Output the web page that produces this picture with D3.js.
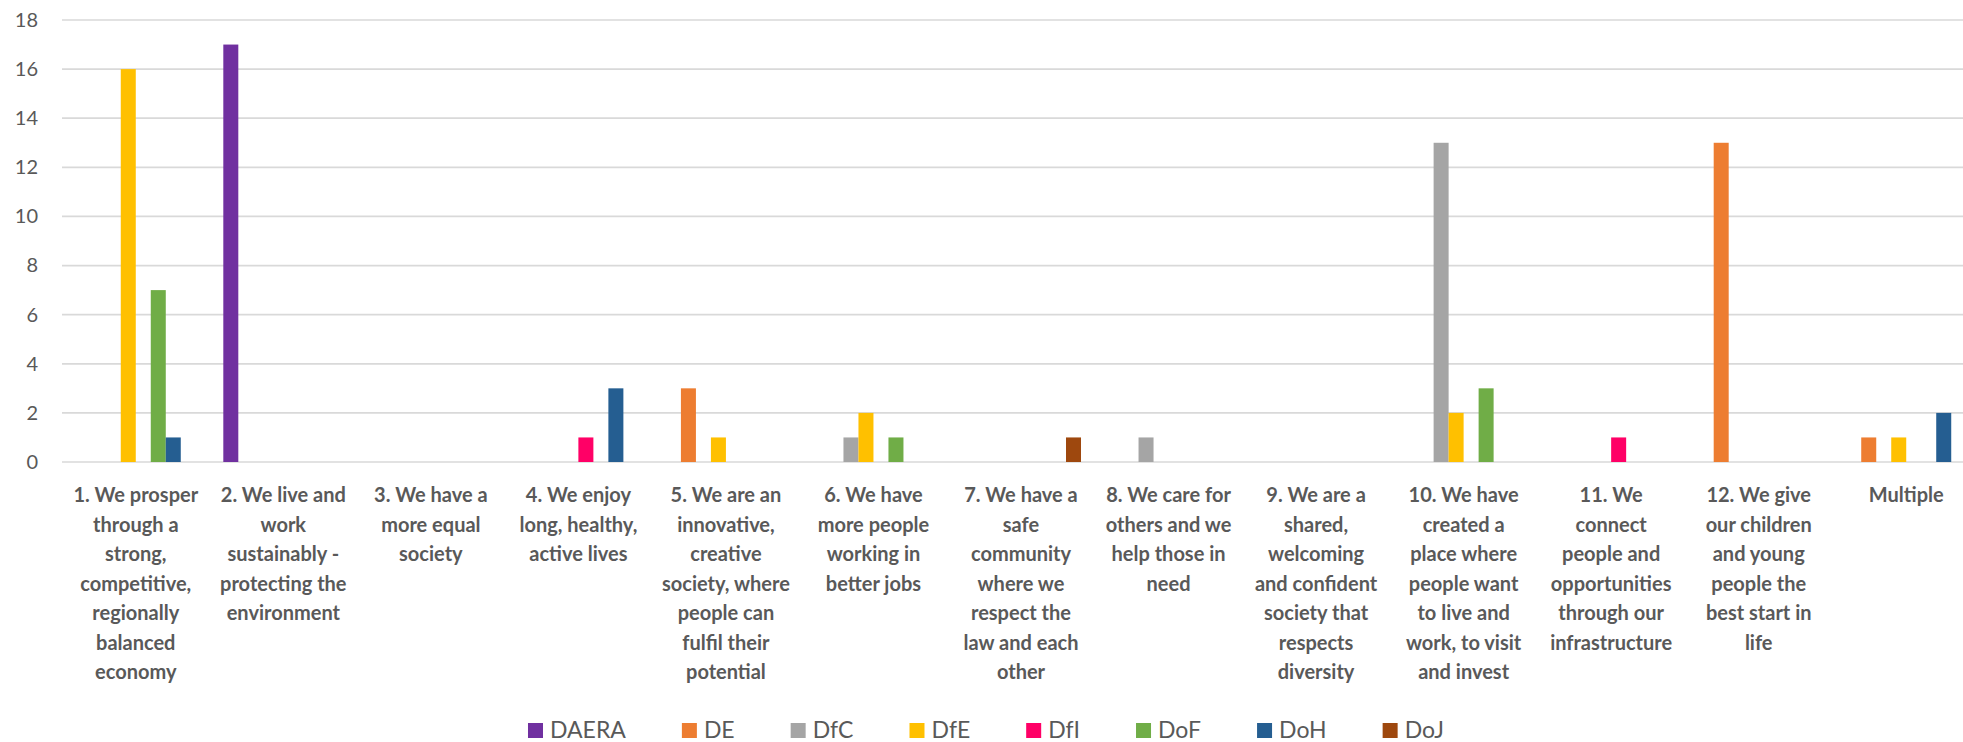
<!DOCTYPE html>
<meta charset="utf-8">
<style>
html, body { margin: 0; padding: 0; overflow: hidden; background: #fff; }
svg { display: block; }
.tick text { font-family: Lato, "Noto Sans", sans-serif; font-size: 20px; fill: #595959; }
.cat { font-family: Lato, "Noto Sans", sans-serif; font-size: 20px; font-weight: bold; fill: #595959; text-anchor: middle; }
.legend text { font-family: Lato, "Noto Sans", sans-serif; font-size: 23px; fill: #595959; }
</style>
<svg width="1963" height="742"></svg>
<script src="https://cdn.jsdelivr.net/npm/d3@7"></script>
<script>

// category labels, already broken into lines as in the chart
var categories = [
  ["1. We prosper", "through a", "strong,", "competitive,", "regionally", "balanced", "economy"],
  ["2. We live and", "work", "sustainably -", "protecting the", "environment"],
  ["3. We have a", "more equal", "society"],
  ["4. We enjoy", "long, healthy,", "active lives"],
  ["5. We are an", "innovative,", "creative", "society, where", "people can", "fulfil their", "potential"],
  ["6. We have", "more people", "working in", "better jobs"],
  ["7. We have a", "safe", "community", "where we", "respect the", "law and each", "other"],
  ["8. We care for", "others and we", "help those in", "need"],
  ["9. We are a", "shared,", "welcoming", "and confident", "society that", "respects", "diversity"],
  ["10. We have", "created a", "place where", "people want", "to live and", "work, to visit", "and invest"],
  ["11. We", "connect", "people and", "opportunities", "through our", "infrastructure"],
  ["12. We give", "our children", "and young", "people the", "best start in", "life"],
  ["Multiple"]
];

var seriesNames = ["DAERA", "DE", "DfC", "DfE", "DfI", "DoF", "DoH", "DoJ"];
var seriesColors = ["#7030A0", "#ED7D31", "#A5A5A5", "#FFC000", "#FF0066", "#70AD47", "#255E91", "#9E480E"];

var DAERA = [0, 17, 0, 0, 0, 0, 0, 0, 0, 0, 0, 0, 0];
var DE    = [0, 0, 0, 0, 3, 0, 0, 0, 0, 0, 0, 13, 1];
var DfC   = [0, 0, 0, 0, 0, 1, 0, 1, 0, 13, 0, 0, 0];
var DfE   = [16, 0, 0, 0, 1, 2, 0, 0, 0, 2, 0, 0, 1];
var DfI   = [0, 0, 0, 1, 0, 0, 0, 0, 0, 0, 1, 0, 0];
var DoF   = [7, 0, 0, 0, 0, 1, 0, 0, 0, 3, 0, 0, 0];
var DoH   = [1, 0, 0, 3, 0, 0, 0, 0, 0, 0, 0, 0, 2];
var DoJ   = [0, 0, 0, 0, 0, 0, 1, 0, 0, 0, 0, 0, 0];
var seriesValues = [DAERA, DE, DfC, DfE, DfI, DoF, DoH, DoJ];

var yTicks = [0, 2, 4, 6, 8, 10, 12, 14, 16, 18];

var svg = d3.select("svg");
var plot = { left: 62, right: 1980, top: 20, bottom: 462 };

var x0 = d3.scaleBand()
    .domain(d3.range(categories.length))
    .range([plot.left, plot.right]);

// bars are 15px each, centred in the ~147px band
var barArea = 15 * seriesNames.length;
var x1 = d3.scaleBand()
    .domain(seriesNames)
    .range([(x0.bandwidth() - barArea) / 2, (x0.bandwidth() + barArea) / 2]);

var y = d3.scaleLinear().domain([0, 18]).range([plot.bottom, plot.top]);

// gridlines
svg.append("g")
  .selectAll("line")
  .data(yTicks)
  .enter().append("line")
    .attr("x1", plot.left)
    .attr("x2", plot.right)
    .attr("y1", function(d) { return y(d); })
    .attr("y2", function(d) { return y(d); })
    .attr("stroke", "#D9D9D9")
    .attr("stroke-width", 1.7);

// y axis labels
var yAxis = svg.append("g")
    .attr("transform", "translate(" + (plot.left - 24) + ",0)")
    .call(d3.axisLeft(y).tickValues(yTicks).tickSize(0).tickPadding(0));
yAxis.select(".domain").remove();
yAxis.selectAll(".tick text").attr("font-family", null).attr("font-size", null).attr("fill", null);

// bars
var groups = svg.append("g")
  .selectAll("g")
  .data(categories)
  .enter().append("g")
    .attr("transform", function(d, i) { return "translate(" + x0(i) + ",0)"; });

groups.selectAll("rect")
  .data(function(d, i) {
    return seriesNames.map(function(s, k) { return { s: s, k: k, v: seriesValues[k][i] }; })
      .filter(function(e) { return e.v > 0; });
  })
  .enter().append("rect")
    .attr("x", function(d) { return x1(d.s); })
    .attr("width", x1.bandwidth())
    .attr("y", function(d) { return y(d.v); })
    .attr("height", function(d) { return y(0) - y(d.v); })
    .attr("fill", function(d) { return seriesColors[d.k]; });

// category labels
var labelTop = 502, lineH = 29.5;
svg.append("g")
  .selectAll("text")
  .data(categories)
  .enter().append("text")
    .attr("class", "cat")
    .attr("transform", function(d, i) { return "translate(" + (x0(i) + x0.bandwidth() / 2) + "," + labelTop + ")"; })
    .selectAll("tspan")
    .data(function(d) { return d; })
    .enter().append("tspan")
      .attr("x", 0)
      .attr("y", function(d, i) { return i * lineH; })
      .text(function(d) { return d; });

// legend
var legend = svg.append("g").attr("class", "legend");
var items = legend.selectAll("g")
  .data(seriesNames)
  .enter().append("g");
items.append("rect")
    .attr("width", 15)
    .attr("height", 15)
    .attr("y", -15)
    .attr("fill", function(d, i) { return seriesColors[i]; });
items.append("text")
    .attr("x", 22)
    .attr("y", 0)
    .text(function(d) { return d; });

var pos = 0, gap = 56;
items.each(function() {
  var w = 22 + this.querySelector("text").getComputedTextLength();
  d3.select(this).attr("transform", "translate(" + pos + ",0)");
  pos += w + gap;
});
var total = pos - gap;
legend.attr("transform", "translate(" + (986 - total / 2) + ",738)");

</script>
